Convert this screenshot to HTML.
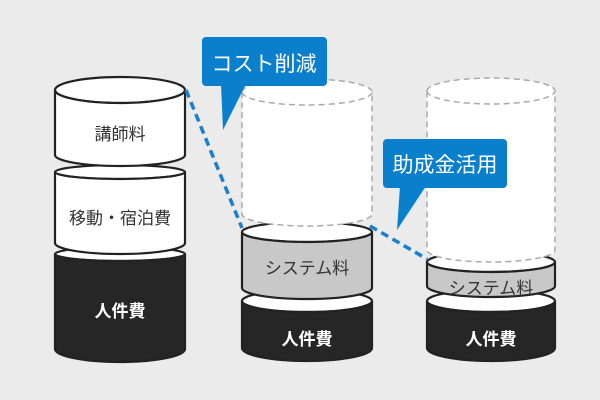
<!DOCTYPE html>
<html><head><meta charset="utf-8"><style>
html,body{margin:0;padding:0;background:#ebebeb;}
svg{display:block;}
text{font-family:"Liberation Sans","Noto Sans CJK JP",sans-serif;text-anchor:middle;}
</style></head><body>
<svg width="600" height="400" viewBox="0 0 600 400" xmlns="http://www.w3.org/2000/svg">
<rect width="600" height="400" fill="#ebebeb"/>
<!-- Column 1 -->
<g stroke="#222" stroke-width="2.2">
<ellipse cx="120" cy="254" rx="65" ry="7" fill="#fff"/>
<path d="M55,254 L55,349 A65,13 0 0 0 185,349 L185,254 A65,7 0 0 1 55,254 Z" fill="#262626"/>
<ellipse cx="120" cy="172" rx="65" ry="7" fill="#fff"/>
<path d="M55,172 L55,243 A65,11 0 0 0 185,243 L185,172 A65,7 0 0 1 55,172 Z" fill="#fff"/>
<ellipse cx="120" cy="90" rx="65" ry="13" fill="#fff"/>
<path d="M55,90 L55,155 A65,11 0 0 0 185,155 L185,90 A65,13 0 0 1 55,90 Z" fill="#fff"/>
</g>
<text x="120" y="140" font-size="17" fill="#333">講師料</text>
<text x="120" y="224" font-size="17" fill="#333">移動・宿泊費</text>
<text x="120" y="317" font-size="17" fill="#fff" font-weight="bold">人件費</text>
<!-- Column 2 -->
<g stroke="#222" stroke-width="2.2">
<ellipse cx="307" cy="301" rx="65" ry="11" fill="#fff"/>
<path d="M242,301 L242,348 A65,13 0 0 0 372,348 L372,301 A65,11 0 0 1 242,301 Z" fill="#262626"/>
<ellipse cx="307" cy="232" rx="65" ry="10" fill="#fff"/>
<path d="M242,232 L242,288 A65,11 0 0 0 372,288 L372,232 A65,10 0 0 1 242,232 Z" fill="#c8c8c8"/>
</g>
<path d="M242,92 A65,13 0 0 1 372,92 L372,214 A65,12 0 0 1 242,214 Z" fill="#fff" stroke="#aaa" stroke-width="1.5" stroke-dasharray="6,4"/>
<path d="M242,92 A65,13 0 0 0 372,92" fill="none" stroke="#aaa" stroke-width="1.5" stroke-dasharray="6,4"/>
<text x="307" y="274" font-size="17" fill="#333">システム料</text>
<text x="307" y="345" font-size="17" fill="#fff" font-weight="bold">人件費</text>
<!-- Column 3 -->
<g stroke="#222" stroke-width="2.2">
<ellipse cx="491" cy="301" rx="64" ry="11" fill="#fff"/>
<path d="M427,301 L427,348 A64,13 0 0 0 555,348 L555,301 A64,11 0 0 1 427,301 Z" fill="#262626"/>
<ellipse cx="491" cy="262" rx="64" ry="10" fill="#fff"/>
<path d="M427,262 L427,286 A64,11 0 0 0 555,286 L555,262 A64,10 0 0 1 427,262 Z" fill="#c8c8c8"/>
</g>
<path d="M427,91 A64,13 0 0 1 555,91 L555,250 A64,12 0 0 1 427,250 Z" fill="#fff" stroke="#aaa" stroke-width="1.5" stroke-dasharray="6,4"/>
<path d="M427,91 A64,13 0 0 0 555,91" fill="none" stroke="#aaa" stroke-width="1.5" stroke-dasharray="6,4"/>
<text x="491" y="294" font-size="17" fill="#333">システム料</text>
<text x="491" y="345" font-size="17" fill="#fff" font-weight="bold">人件費</text>
<!-- dashed blue -->
<line x1="186" y1="90" x2="242" y2="228" stroke="#1a7fcf" stroke-width="3.5" stroke-dasharray="8,5"/>
<line x1="370" y1="226" x2="427" y2="259" stroke="#1a7fcf" stroke-width="3.5" stroke-dasharray="8,5"/>
<!-- callouts -->
<rect x="202" y="37" width="125" height="49" rx="4" fill="#0a7fcc"/>
<path d="M221,84 L246,84 L223,130 Z" fill="#0a7fcc"/>
<text x="264" y="71" font-size="21" fill="#fff">コスト削減</text>
<rect x="383" y="139" width="124" height="49" rx="4" fill="#0a7fcc"/>
<path d="M400,186 L426,186 L397,230 Z" fill="#0a7fcc"/>
<text x="445" y="172" font-size="21" fill="#fff">助成金活用</text>
</svg>
</body></html>
